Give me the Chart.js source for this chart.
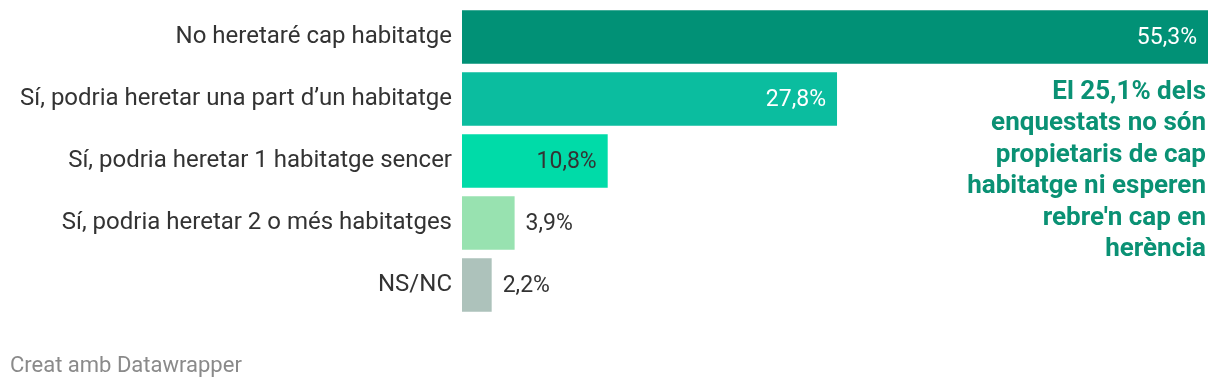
<!DOCTYPE html>
<html>
<head>
<meta charset="utf-8">
<script src="https://cdn.jsdelivr.net/npm/chart.js@4"></script>
<style>
  html, body { margin: 0; padding: 0; background: #fff; }
  #wrap { position: relative; width: 1220px; height: 388px; overflow: hidden; font-family: Roboto, "Noto Sans", sans-serif; }
  #c { position: absolute; left: 0; top: 0; }
  #note { position: absolute; right: 14px; top: 74.5px; width: 320px; text-align: right; font-weight: 700; font-size: 26px; line-height: 31.6px; color: #0a9174; }
  #footer { position: absolute; left: 10px; top: 352px; font-size: 22px; line-height: normal; color: #8a8a8a; }
</style>
</head>
<body>
<div id="wrap">
  <canvas id="c" width="1220" height="388"></canvas>
  <div id="note">El 25,1% dels<br>enquestats no són<br>propietaris de cap<br>habitatge ni esperen<br>rebre'n cap en<br>herència</div>
  <div id="footer">Creat amb Datawrapper</div>
</div>
<script>
const categories = [
  "No heretaré cap habitatge",
  "Sí, podria heretar una part d\u2019un habitatge",
  "Sí, podria heretar 1 habitatge sencer",
  "Sí, podria heretar 2 o més habitatges",
  "NS/NC"
];
const values = [55.3, 27.8, 10.8, 3.9, 2.2];
const valueLabels = ["55,3%", "27,8%", "10,8%", "3,9%", "2,2%"];
const barColors = ["#019176", "#0bbd9f", "#00dba8", "#98e2b0", "#adc2bb"];
const labelInside = [true, true, true, false, false];
const labelColors = ["#ffffff", "#ffffff", "#333333", "#333333", "#333333"];

const valuePlugin = {
  id: 'valueLabels',
  afterDatasetsDraw(chart) {
    const ctx = chart.ctx;
    const meta = chart.getDatasetMeta(0);
    ctx.save();
    ctx.font = '23px Roboto, "Noto Sans", sans-serif';
    ctx.textBaseline = 'middle';
    meta.data.forEach((bar, i) => {
      const y = bar.y + 1;
      ctx.fillStyle = labelColors[i];
      if (labelInside[i]) {
        ctx.textAlign = 'right';
        ctx.fillText(valueLabels[i], bar.x - 11, y);
      } else {
        ctx.textAlign = 'left';
        ctx.fillText(valueLabels[i], bar.x + 11, y);
      }
    });
    ctx.restore();
  }
};

new Chart(document.getElementById('c'), {
  type: 'bar',
  data: {
    labels: categories,
    datasets: [{
      data: values,
      backgroundColor: barColors,
      borderWidth: 0,
      categoryPercentage: 1,
      barPercentage: 0.866
    }]
  },
  options: {
    indexAxis: 'y',
    responsive: false,
    animation: false,
    devicePixelRatio: 1,
    layout: { padding: { top: 6, bottom: 72, right: 12, left: 0 } },
    plugins: { legend: { display: false }, tooltip: { enabled: false } },
    scales: {
      x: { display: false, min: 0, max: 55.3 },
      y: {
        grid: { display: false, drawTicks: false },
        border: { display: false },
        ticks: {
          color: '#333333',
          padding: 10,
          font: { family: 'Roboto, "Noto Sans", sans-serif', size: 24 }
        },
        afterFit(scale) { scale.width = 462; scale.paddingTop = 0; scale.paddingBottom = 0; }
      }
    }
  },
  plugins: [valuePlugin]
});
</script>
</body>
</html>
